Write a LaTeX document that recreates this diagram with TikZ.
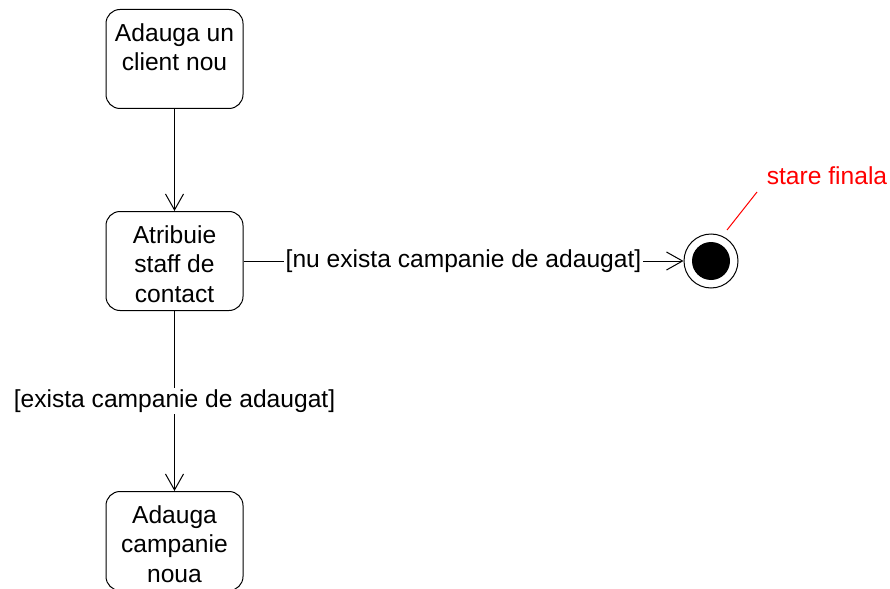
\documentclass[tikz,border=0pt]{standalone}
\usepackage{fontspec}
\setmainfont{Liberation Sans}
\usetikzlibrary{arrows.meta, positioning}

\begin{document}
\begin{tikzpicture}
            [->, >={Straight Barb[length=16pt,width=18pt]}, x=1pt, y=-1pt,
            line width=1pt, node distance=102pt,
            activity/.style={rectangle, rounded corners=14pt, draw=black, minimum width=137pt, minimum height=99pt},
            acttext/.style={anchor=north, yshift=-14pt, align=center, inner sep=0pt, font=\fontsize{24.6}{29.5}\selectfont},
            guard/.style={fill=white, inner sep=1.5pt, font=\fontsize{24.6}{29.5}\selectfont},
            final/.style={circle, draw=black, minimum size=54pt, inner sep=0pt,
              path picture={\fill[black] (path picture bounding box.center) circle (19pt);}}]

            \useasboundingbox (0,0) rectangle (890,588);

            \node[activity, label={[acttext]north:Adauga un\\client nou}] (client) at (174.5,59) {};
            \node[activity, label={[acttext]north:Atribuie\\staff de\\contact}] (staff) [below = of client] {};
            \node[activity, label={[acttext]north:Adauga\\campanie\\noua}] (campanie) [below = 180pt of staff] {};
            \node[final] (end) [right = 440pt of staff] {};
            \node[text=red, font=\fontsize{24.6}{29.5}\selectfont] (note) at (827,176) {stare finala};
            \coordinate (notefrom) at (757,192);
            \coordinate (noteto) at (727,230);

            \draw (client) -- (staff);
            \draw (staff) -- node[guard] {[exista campanie de adaugat]} (campanie);
            \draw (staff) -- node[guard] {[nu exista campanie de adaugat]} (end);
            \draw[-, red] (notefrom) -- (noteto);

          \end{tikzpicture}
\end{document}
